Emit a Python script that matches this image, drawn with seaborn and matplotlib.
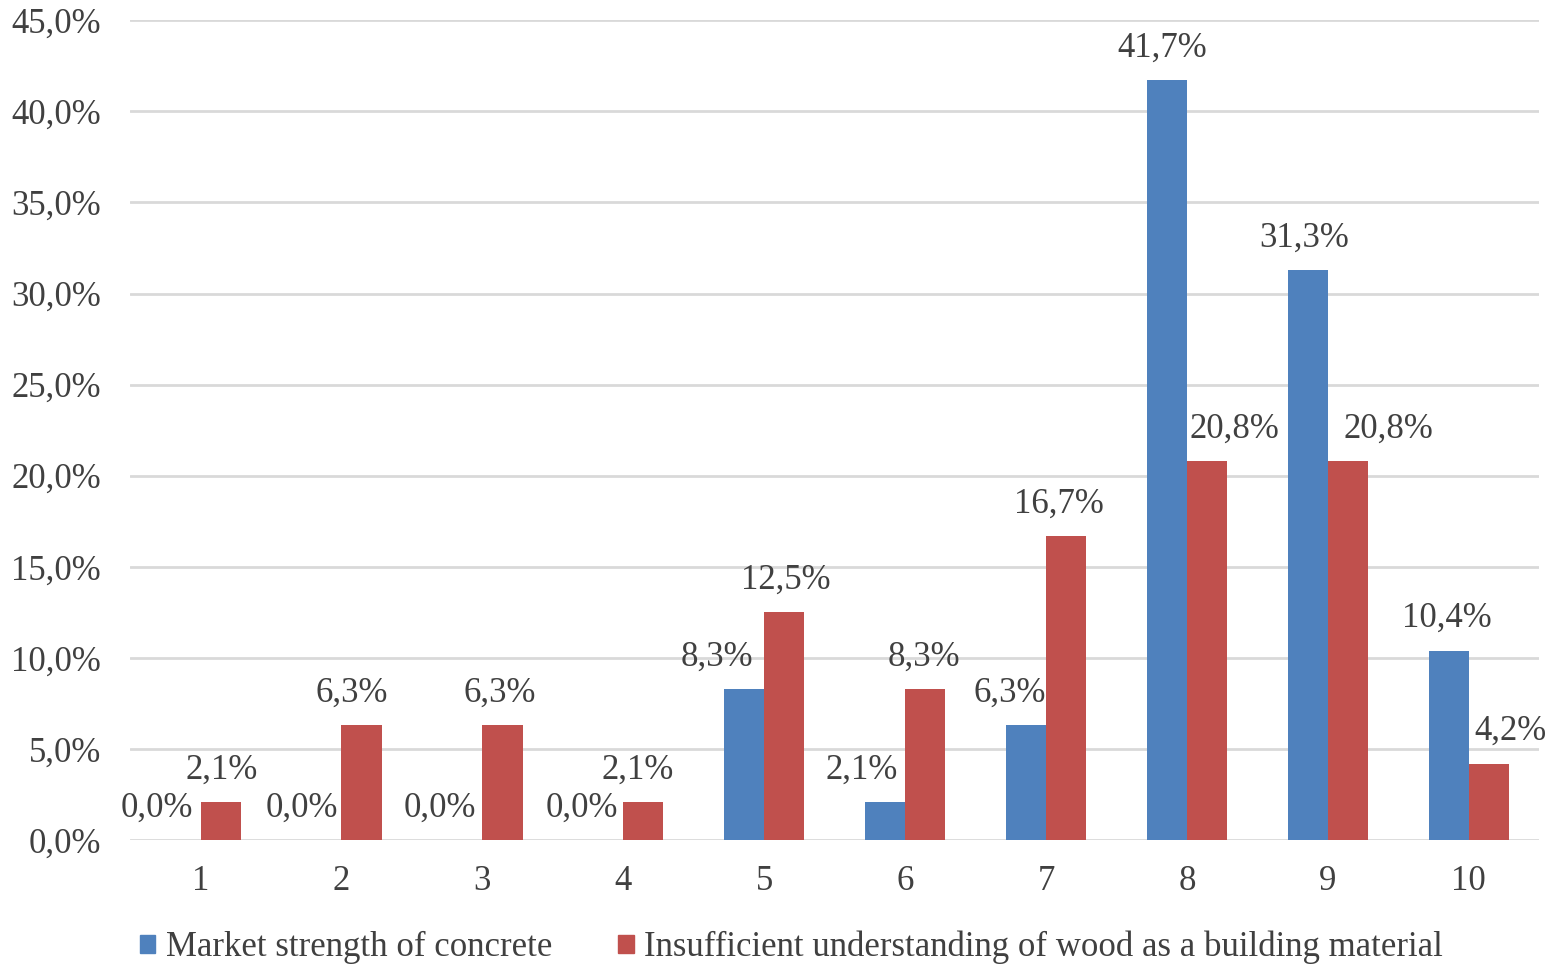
import matplotlib
matplotlib.use("Agg")
import matplotlib.pyplot as plt
from matplotlib.ticker import FuncFormatter, MultipleLocator
import seaborn as sns
import pandas as pd

categories = ["1", "2", "3", "4", "5", "6", "7", "8", "9", "10"]
concrete = [0.0, 0.0, 0.0, 0.0, 8.3, 2.1, 6.3, 41.7, 31.3, 10.4]
wood = [2.1, 6.3, 6.3, 2.1, 12.5, 8.3, 16.7, 20.8, 20.8, 4.2]
series_names = ["Market strength of concrete",
                "Insufficient understanding of wood as a building material"]
colors = ["#4F81BD", "#C0504D"]
# label nudges (pixels) so the data labels don't collide, like in the original
nudge_concrete = [-24, -19, -22, -21, -27, -23, -16, -5, -4, -2]
nudge_wood = [1, -10, -3, -6, 2, -1, -7, 27, 40, 22]

df = pd.DataFrame({
    "cat": categories * 2,
    "value": concrete + wood,
    "series": [series_names[0]] * len(categories) + [series_names[1]] * len(categories),
})

sns.set_style("white")
plt.rcParams["font.family"] = ["Liberation Serif", "DejaVu Serif"]
text_color = "#404040"
fs = 25

fig = plt.figure(figsize=(15.52, 9.65), dpi=100)
ax = fig.add_axes([0.0838, 0.1295, 0.908, 0.8495])

sns.barplot(data=df, x="cat", y="value", hue="series", order=categories,
            hue_order=series_names, palette=colors, width=0.57, saturation=1,
            linewidth=0, ax=ax, legend=False)

for cont, vals, nudges in zip(ax.containers, [concrete, wood], [nudge_concrete, nudge_wood]):
    for bar, v, dx in zip(cont, vals, nudges):
        ax.annotate(f"{v:.1f}%".replace(".", ","),
                    (bar.get_x() + bar.get_width() / 2, bar.get_height()),
                    xytext=(dx, 32), textcoords="offset pixels",
                    ha="center", va="center", fontsize=fs, color=text_color)

ax.set_ylim(0, 45)
ax.yaxis.set_major_locator(MultipleLocator(5))
ax.yaxis.set_major_formatter(FuncFormatter(lambda v, p: f"{v:.1f}%".replace(".", ",")))
ax.grid(axis="y", color="#D9D9D9", linewidth=2)
ax.set_axisbelow(True)
for s in ax.spines.values():
    s.set_visible(False)
ax.tick_params(axis="both", length=0, labelsize=fs, labelcolor=text_color)
ax.tick_params(axis="x", pad=18)
ax.tick_params(axis="y", pad=21)
ax.set_xlabel("")
ax.set_ylabel("")

handles = [plt.Rectangle((0, 0), 1, 1, color=c) for c in colors]
fig.legend(handles, series_names, loc="center", bbox_to_anchor=(0.51, 0.018),
           ncol=2, frameon=False, fontsize=fs, handlelength=0.45, handleheight=0.45,
           handletextpad=0.3, columnspacing=1.9, labelcolor=text_color)

fig.savefig("out.png", dpi=100)
